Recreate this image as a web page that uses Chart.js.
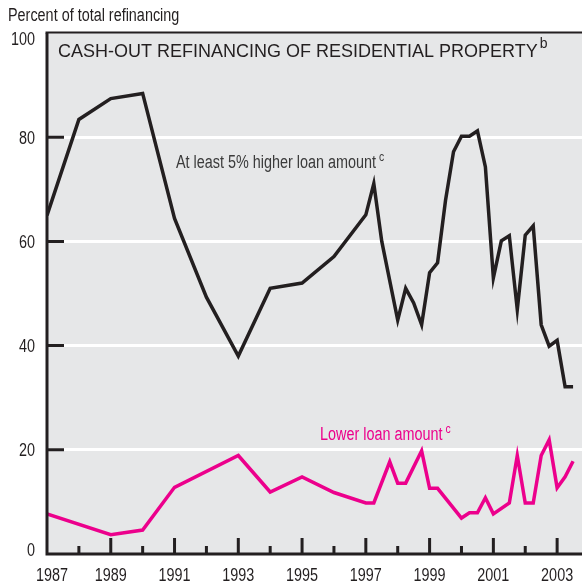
<!DOCTYPE html>
<html>
<head>
<meta charset="utf-8">
<script src="https://cdn.jsdelivr.net/npm/chart.js@4/dist/chart.umd.min.js"></script>
<style>
  html, body { margin: 0; padding: 0; background: #fff; }
  #wrap { position: relative; width: 582px; height: 584px; }
</style>
</head>
<body>
<div id="wrap"><canvas id="refi-chart" width="582" height="584"></canvas></div>
<script>
// annual points to 1996, quarterly from 1997
const years = [
  1987, 1988, 1989, 1990, 1991, 1992, 1993, 1994, 1995, 1996,
  1997, 1997.25, 1997.5, 1997.75,
  1998, 1998.25, 1998.5, 1998.75,
  1999, 1999.25, 1999.5, 1999.75,
  2000, 2000.25, 2000.5, 2000.75,
  2001, 2001.25, 2001.5, 2001.75,
  2002, 2002.25, 2002.5, 2002.75,
  2003, 2003.25, 2003.5,
];

const higherLoan = [
  65, 83.4, 87.4, 88.4, 64.4, 49.3, 38, 51, 52, 57.1,
  65.1, 71.1, 60, null,
  44.9, 51, 48.2, 44,
  54, 55.9, 67.9, 77.2,
  80.2, 80.2, 81.2, 74.3,
  53, 60.1, 61.1, 46.9,
  61.2, 63, 44, 39.9,
  41, 32.1, 32.1,
];

const lowerLoan = [
  7.7, null, 3.7, 4.6, 12.8, null, 18.9, 11.9, 14.8, 11.8,
  9.8, 9.8, null, 17.7,
  13.6, 13.6, null, 19.8,
  12.6, 12.6, null, null,
  6.9, 7.9, 7.9, 10.8,
  7.7, null, 9.8, 18.9,
  9.8, 9.8, 18.9, 21.9,
  12.7, 14.8, 17.8,
];

const yTicks = [0, 20, 40, 60, 80, 100];

const INK = "#231f20";
const PINK = "#ec008c";
const SANS = "'Liberation Sans', Arial, sans-serif";
// no narrow face installed, so squeeze Liberation Sans like Arial Narrow
const SQUEEZE = 0.8;

function narrowText(ctx, text, x, y, size, color, align) {
  ctx.save();
  ctx.font = size + "px " + SANS;
  ctx.fillStyle = color;
  ctx.textBaseline = "alphabetic";
  ctx.textAlign = "left";
  const w = ctx.measureText(text).width * SQUEEZE;
  let left = x;
  if (align === "right") left = x - w;
  if (align === "center") left = x - w / 2;
  ctx.translate(left, y);
  ctx.scale(SQUEEZE, 1);
  ctx.fillText(text, 0, 0);
  ctx.restore();
  return w;
}

const frame = {
  id: "frame",
  beforeDraw(chart) {
    const { ctx, chartArea: a } = chart;
    ctx.save();
    ctx.fillStyle = "#e6e7e8";
    ctx.fillRect(a.left, a.top, a.right - a.left, a.bottom - a.top);
    ctx.restore();
  },
  afterDraw(chart) {
    const { ctx, chartArea: a } = chart;
    const xs = chart.scales.x;
    const ys = chart.scales.y;
    ctx.save();
    ctx.strokeStyle = INK;

    // tick marks drawn inside the plot
    ctx.lineWidth = 3;
    ctx.beginPath();
    ys.ticks.forEach((t) => {
      if (t.value === 0 || t.value === 100) return;
      const y = ys.getPixelForValue(t.value);
      ctx.moveTo(a.left, y);
      ctx.lineTo(a.left + 17, y);
    });
    xs.ticks.forEach((t) => {
      if (t.value === 1987) return;
      const x = xs.getPixelForValue(t.value);
      const len = t.value % 2 === 1 ? 16 : 8;
      ctx.moveTo(x, a.bottom);
      ctx.lineTo(x, a.bottom - len);
    });
    ctx.stroke();

    // axes
    ctx.lineWidth = 3;
    ctx.beginPath();
    ctx.moveTo(a.left, a.top);
    ctx.lineTo(a.left, a.bottom);
    ctx.lineTo(a.right, a.bottom);
    ctx.stroke();
    ctx.lineWidth = 2;
    ctx.beginPath();
    ctx.moveTo(a.left - 1.5, a.top - 0.5);
    ctx.lineTo(a.right, a.top - 0.5);
    ctx.stroke();
    ctx.restore();

    // tick labels
    ys.ticks.forEach((t) => {
      let y = ys.getPixelForValue(t.value) + 6.5;
      if (t.value === 100) y += 5;
      if (t.value === 0) y -= 5;
      narrowText(ctx, String(t.value), 35, y, 18, INK, "right");
    });
    xs.ticks.forEach((t) => {
      if (t.value % 2 !== 1) return;
      let x = xs.getPixelForValue(t.value);
      if (t.value === 1987) x += 5;
      narrowText(ctx, String(t.value), x, 581, 18, INK, "center");
    });

    // titles and series labels
    narrowText(ctx, "Percent of total refinancing", 8, 21, 18, INK);

    ctx.save();
    ctx.fillStyle = INK;
    ctx.textBaseline = "alphabetic";
    ctx.font = "18px " + SANS;
    const title = "CASH-OUT REFINANCING OF RESIDENTIAL PROPERTY";
    ctx.fillText(title, 58, 57);
    const tw = ctx.measureText(title).width;
    ctx.font = "14px " + SANS;
    ctx.fillText("b", 58 + tw + 2, 48);
    ctx.restore();

    let w = narrowText(ctx, "At least 5% higher loan amount", 176, 168, 18, "#3b3b3b");
    narrowText(ctx, "c", 176 + w + 3, 161, 13, "#3b3b3b");
    w = narrowText(ctx, "Lower loan amount", 320, 440, 18, PINK);
    narrowText(ctx, "c", 320 + w + 3, 433, 13, PINK);
  },
};

new Chart(document.getElementById("refi-chart"), {
  type: "line",
  data: {
    labels: years,
    datasets: [
      {
        label: "At least 5% higher loan amount",
        data: years.map((yr, i) => ({ x: yr, y: higherLoan[i] })),
        borderColor: INK,
        borderWidth: 3.5,
        borderJoinStyle: "miter",
        pointRadius: 0,
        spanGaps: true,
        tension: 0,
      },
      {
        label: "Lower loan amount",
        data: years.map((yr, i) => ({ x: yr, y: lowerLoan[i] })),
        borderColor: PINK,
        borderWidth: 3.5,
        borderJoinStyle: "miter",
        pointRadius: 0,
        spanGaps: true,
        tension: 0,
      },
    ],
  },
  options: {
    responsive: false,
    animation: false,
    layout: { padding: { top: 33, left: 0, right: 0, bottom: 0 } },
    plugins: {
      legend: { display: false },
      tooltip: { enabled: false },
    },
    scales: {
      x: {
        type: "linear",
        min: 1987,
        max: 2003.78,
        afterFit: (s) => { s.height = 30; },
        afterBuildTicks: (s) => {
          const t = [];
          for (let yr = 1987; yr <= 2003; yr++) t.push({ value: yr });
          s.ticks = t;
        },
        grid: { display: false, drawTicks: false },
        border: { display: false },
        ticks: { display: false },
      },
      y: {
        min: 0,
        max: 100,
        afterFit: (s) => { s.width = 47; },
        afterBuildTicks: (s) => { s.ticks = yTicks.map((v) => ({ value: v })); },
        grid: {
          color: (c) => (c.tick && (c.tick.value === 0 || c.tick.value === 100) ? "rgba(0,0,0,0)" : "#ffffff"),
          lineWidth: 3,
          drawTicks: false,
        },
        border: { display: false },
        ticks: { display: false },
      },
    },
  },
  plugins: [frame],
});
</script>
</body>
</html>
